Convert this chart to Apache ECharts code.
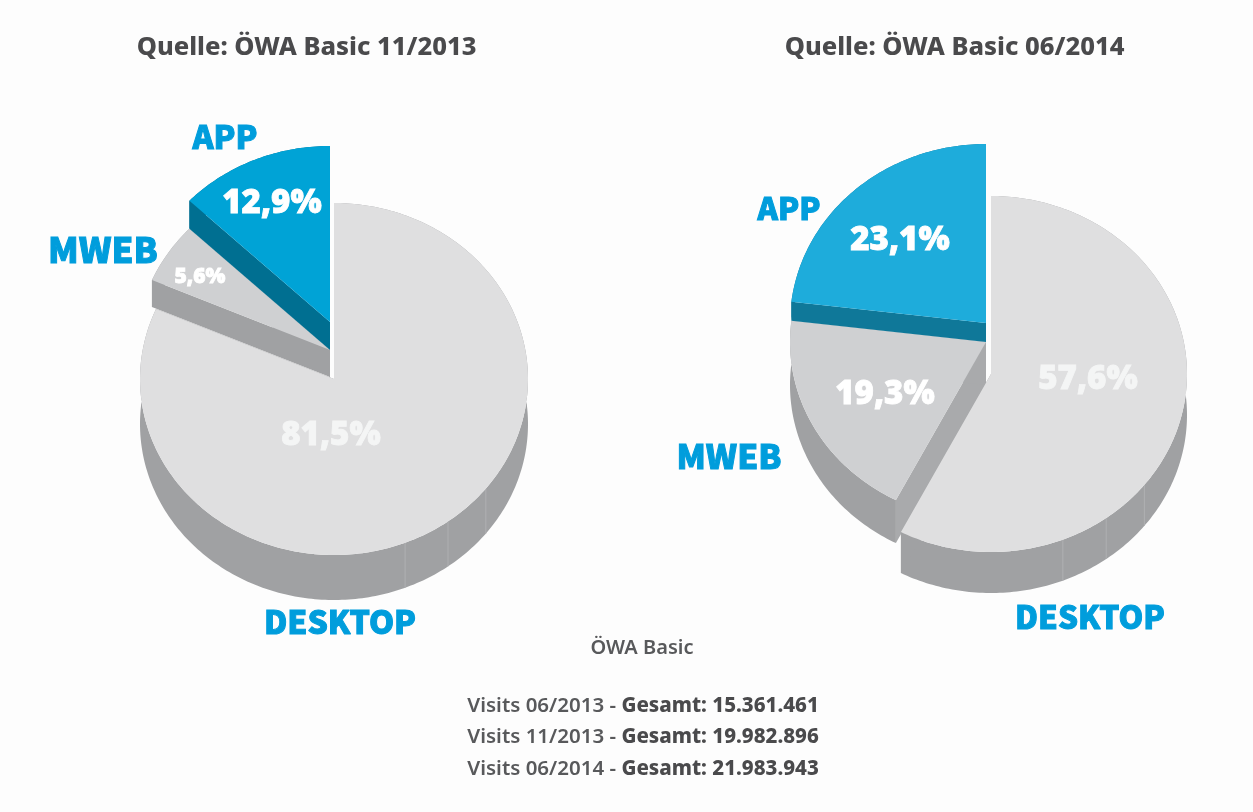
<!DOCTYPE html>
<html>
<head>
<meta charset="utf-8">
<title>ÖWA Basic</title>
<script src="https://cdn.jsdelivr.net/npm/echarts@6/dist/echarts.min.js"></script>
<style>
  html, body { margin: 0; padding: 0; background: #fdfdfd; }
  #chart { width: 1253px; height: 812px; }
</style>
</head>
<body>
<div id="chart"></div>
<script>
'use strict';

/* chart data */
var categories = ['DESKTOP', 'MWEB', 'APP'];
var shares2013 = [81.5, 5.6, 12.9];
var shares2014 = [57.6, 19.3, 23.1];
var chartTitles = ['Quelle: ÖWA Basic 11/2013', 'Quelle: ÖWA Basic 06/2014'];
var footerTitle = 'ÖWA Basic';
var visitPeriods = ['06/2013', '11/2013', '06/2014'];
var visitTotals = ['15.361.461', '19.982.896', '21.983.943'];

/* look of each slice, same order as categories */
var labelFamily = 'px "Noto Sans CJK SC"';
var valueFont = '800 33px "Open Sans"';
var seamAngles = [128.5, 144, 158.5];

var layout2013 = [
  { cx: 334, cy: 379, rx: 194, ry: 176, depth: 45, z: 1, top: '#dfdfe0', side: '#a0a1a3', cut: '#a0a1a3', seams: true,
    labelPos: [340, 622], labelSize: 32, valuePos: [331, 436], valueFont: valueFont, valueColor: '#f4f5f5' },
  { cx: 330, cy: 350, rx: 194, ry: 176, depth: 27, z: 2, top: '#cfd0d2', side: '#a0a1a3', cut: '#a0a1a3',
    labelPos: [103, 250], labelSize: 35, valuePos: [200, 277], valueFont: '800 21px "Open Sans"', valueColor: '#ffffff' },
  { cx: 330, cy: 322, rx: 194, ry: 176, depth: 28, z: 3, top: '#00a3d6', side: '#006f91', cut: '#006f91',
    labelPos: [225, 137], labelSize: 32, valuePos: [272, 204], valueFont: valueFont, valueColor: '#ffffff' }
];

var layout2014 = [
  { cx: 991, cy: 374, rx: 196, ry: 178, depth: 41, z: 3, top: '#dfdfe0', side: '#a0a1a3', cut: '#a0a1a3', seams: true,
    labelPos: [1090, 617], labelSize: 31.5, valuePos: [1088, 380], valueFont: valueFont, valueColor: '#f4f5f5' },
  { cx: 986, cy: 342, rx: 196, ry: 178, depth: 43, z: 1, top: '#cfd0d2', side: '#a0a1a3', cut: '#a9aaac',
    labelPos: [729, 456], labelSize: 33.5, valuePos: [885, 395], valueFont: valueFont, valueColor: '#ffffff' },
  { cx: 986, cy: 323, rx: 196, ry: 179, depth: 19, z: 2, top: '#1eacdb', side: '#0f7899', cut: '#0f7899',
    labelPos: [789, 208], labelSize: 31, valuePos: [900, 241], valueFont: valueFont, valueColor: '#ffffff' }
];

// point on the flattened circle, angle counted clockwise from 12 o'clock
function rimPoint(s, angle, drop) {
  var rad = angle * Math.PI / 180;
  return [s.cx + s.rx * Math.sin(rad), s.cy - s.ry * Math.cos(rad) + (drop || 0)];
}

function arcPoints(s, from, to, drop) {
  var pts = [];
  var steps = Math.max(2, Math.ceil(Math.abs(to - from)));
  for (var i = 0; i <= steps; i++) {
    pts.push(rimPoint(s, from + (to - from) * i / steps, drop));
  }
  return pts;
}

function polygon(points, fill, z2) {
  return { type: 'polygon', shape: { points: points }, style: { fill: fill }, z2: z2 };
}

function sliceRenderer(shares, layout) {
  return function(params, api) {
    var idx = params.dataIndex;
    var s = layout[idx];
    var total = 0;
    var before = 0;
    for (var i = 0; i < shares.length; i++) {
      total += shares[i];
      if (i < idx) {
        before += shares[i];
      }
    }
    var from = before / total * 360;
    var to = from + api.value(0) / total * 360;
    var base = s.z * 10;
    var top = arcPoints(s, from, to, 0);
    var bottom = arcPoints(s, to, from, s.depth);
    var apex = [s.cx, s.cy];
    var apexLow = [s.cx, s.cy + s.depth];

    var children = [
      polygon(top.concat(bottom), s.side, base),
      polygon([apex, rimPoint(s, from), rimPoint(s, from, s.depth), apexLow], s.cut, base + 1),
      polygon([apex, rimPoint(s, to), rimPoint(s, to, s.depth), apexLow], s.cut, base + 1),
      polygon([apex].concat(top), s.top, base + 3)
    ];

    if (s.seams) {
      seamAngles.forEach(function(a) {
        var p1 = rimPoint(s, a);
        var p2 = rimPoint(s, a, s.depth);
        children.push({
          type: 'line',
          shape: { x1: p1[0], y1: p1[1], x2: p2[0], y2: p2[1] },
          style: { stroke: '#afb0b2', lineWidth: 1 },
          z2: base + 2
        });
      });
    }

    children.push({
      type: 'text',
      x: s.labelPos[0],
      y: s.labelPos[1],
      style: {
        text: categories[idx],
        font: '900 ' + s.labelSize + labelFamily,
        fill: '#009ddc',
        stroke: '#009ddc',
        lineWidth: 1,
        textAlign: 'center',
        textVerticalAlign: 'middle'
      },
      z2: 100
    });
    children.push({
      type: 'text',
      x: s.valuePos[0],
      y: s.valuePos[1],
      style: {
        text: String(api.value(0)).replace('.', ',') + '%',
        font: s.valueFont,
        fill: s.valueColor,
        stroke: s.valueColor,
        lineWidth: 0.8,
        textAlign: 'center',
        textVerticalAlign: 'middle'
      },
      z2: 100
    });

    return { type: 'group', children: children };
  };
}

function footerLines() {
  var lines = [];
  for (var i = 0; i < visitPeriods.length; i++) {
    lines.push({
      text: '{a|Visits ' + visitPeriods[i] + ' - }{b|Gesamt: ' + visitTotals[i] + '}',
      left: 638,
      top: 701 + i * 31.5,
      textAlign: 'center',
      textVerticalAlign: 'middle',
      textStyle: {
        rich: {
          a: { fontFamily: 'Noto Sans', fontSize: 20.5, fontWeight: 600, color: '#58595b' },
          b: { fontFamily: 'Noto Sans', fontSize: 20.5, fontWeight: 800, color: '#4a4a4c' }
        }
      }
    });
  }
  return lines;
}

var titleStyle = { fontFamily: 'Noto Sans', fontSize: 25.5, fontWeight: 800, color: '#4a4a4c' };

var chart = echarts.init(document.getElementById('chart'), null, { renderer: 'canvas' });

chart.setOption({
  backgroundColor: '#fdfdfd',
  animation: false,
  title: [
    { text: chartTitles[0], left: 301.5, top: 43, textAlign: 'center', textVerticalAlign: 'middle', textStyle: titleStyle },
    { text: chartTitles[1], left: 949.5, top: 43, textAlign: 'center', textVerticalAlign: 'middle', textStyle: titleStyle },
    {
      text: footerTitle,
      left: 637,
      top: 643,
      textAlign: 'center',
      textVerticalAlign: 'middle',
      textStyle: { fontFamily: 'Noto Sans', fontSize: 20, fontWeight: 600, color: '#58595b' }
    }
  ].concat(footerLines()),
  series: [{
    type: 'custom',
    coordinateSystem: 'none',
    silent: true,
    renderItem: sliceRenderer(shares2013, layout2013),
    data: shares2013.map(function(v) { return [v]; })
  }, {
    type: 'custom',
    coordinateSystem: 'none',
    silent: true,
    renderItem: sliceRenderer(shares2014, layout2014),
    data: shares2014.map(function(v) { return [v]; })
  }]
});
</script>
</body>
</html>
